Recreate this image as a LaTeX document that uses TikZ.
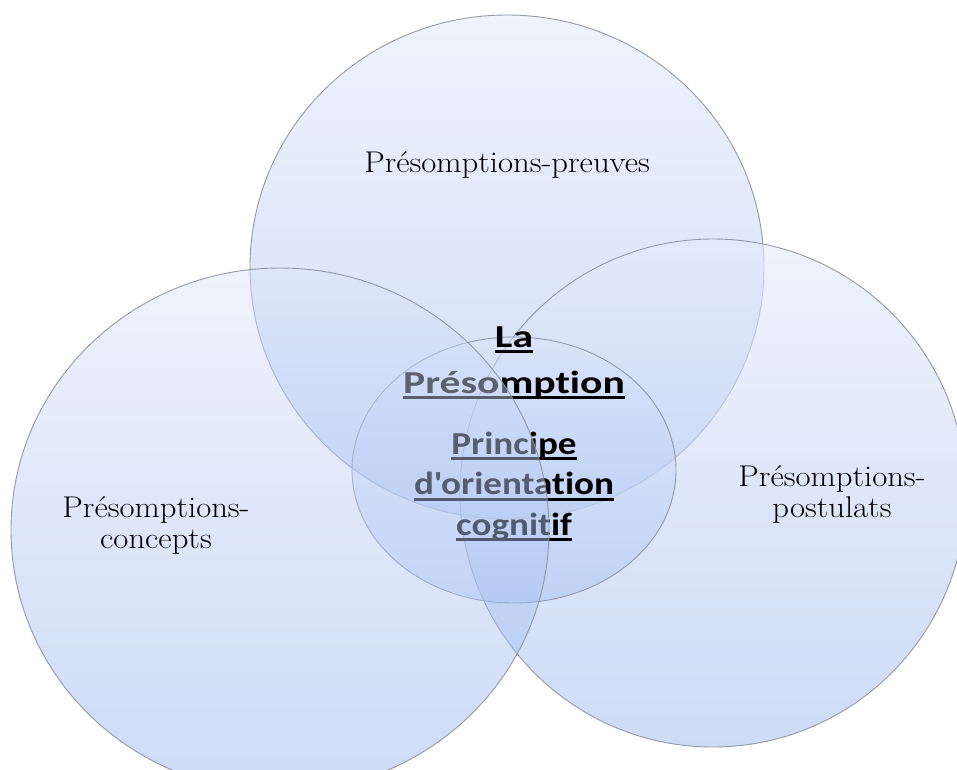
\documentclass[tikz,border=0pt]{standalone}
\usepackage{fontspec}
\usepackage{graphicx}
\usetikzlibrary{shapes.geometric}
\newfontfamily\calib{Carlito}[Ligatures=NoCommon]
\definecolor{lineC}{RGB}{138,144,160}
\definecolor{topC}{RGB}{228,235,251}
\definecolor{botC}{RGB}{172,196,242}
\definecolor{ltopC}{RGB}{219,228,250}
\definecolor{lbotC}{RGB}{144,176,238}
\definecolor{inTop}{RGB}{218,228,250}
\definecolor{inBot}{RGB}{165,192,242}
\newcommand\myul[1]{\setbox0=\hbox{#1}\rlap{\rule[-6pt]{\wd0}{3pt}}\box0}
\newcommand\hs[1]{\scalebox{1.09}[1]{#1}}
\tikzset{
  venn/.style={ellipse, inner sep=0pt, draw=lineC, line width=0.9pt,
    top color=topC, bottom color=botC, fill opacity=0.6, draw opacity=0.9},
  inner/.style={venn, top color=inTop, bottom color=inBot, fill opacity=0.45},
  vennL/.style={venn, top color=ltopC, bottom color=lbotC, fill opacity=0.45},
  serif/.style={font=\fontsize{30}{31}\selectfont, text=black, inner sep=0pt, anchor=base},
  boldA/.style={font=\calib\bfseries\fontsize{32}{46}\selectfont, text=black, inner sep=0pt, anchor=base},
  boldB/.style={font=\calib\bfseries\fontsize{32}{40.5}\selectfont, text=black, inner sep=0pt, anchor=base}
}
\begin{document}
\begin{tikzpicture}[x=1pt,y=-1pt]
\path[use as bounding box] (0,0) rectangle (957,769);
\fill[white] (0,0) rectangle (957,769);
\clip (0,0) rectangle (957,769);
% top and right circles, inner ellipse
\node[venn, minimum width=514pt, minimum height=504pt] (top) at (507,267) {};
\node[venn, minimum width=506pt, minimum height=508pt] (right) at (713,493) {};
\node[inner, minimum width=324pt, minimum height=266pt] (core) at (514,470) {};
% central text
\node[boldA] (pres) at (514,347) {\begin{tabular}[t]{@{}c@{}}\scalebox{1.3}[1]{\myul{La}}\\\scalebox{1.3}[1]{\myul{Présomption}}\end{tabular}};
\node[boldB] (princ) at (514,454) {\begin{tabular}[t]{@{}c@{}}\scalebox{1.16}[1]{\myul{Principe}}\\\scalebox{1.16}[1]{\myul{d'orientation}}\\\scalebox{1.16}[1]{\myul{cognitif}}\end{tabular}};
% labels
\node[serif] (lt) at (507,172) {\hs{Présomptions-preuves}};
\node[serif] (lr) at (832,486) {\begin{tabular}[t]{@{}c@{}}\hs{Présomptions-}\\\hs{postulats}\end{tabular}};
% left circle drawn over the central text
\node[vennL, minimum width=538pt, minimum height=524pt] (left) at (280,530) {};
\node[serif] (ll) at (156,517) {\begin{tabular}[t]{@{}c@{}}\hs{Présomptions-}\\\hs{concepts}\end{tabular}};
\end{tikzpicture}
\end{document}
